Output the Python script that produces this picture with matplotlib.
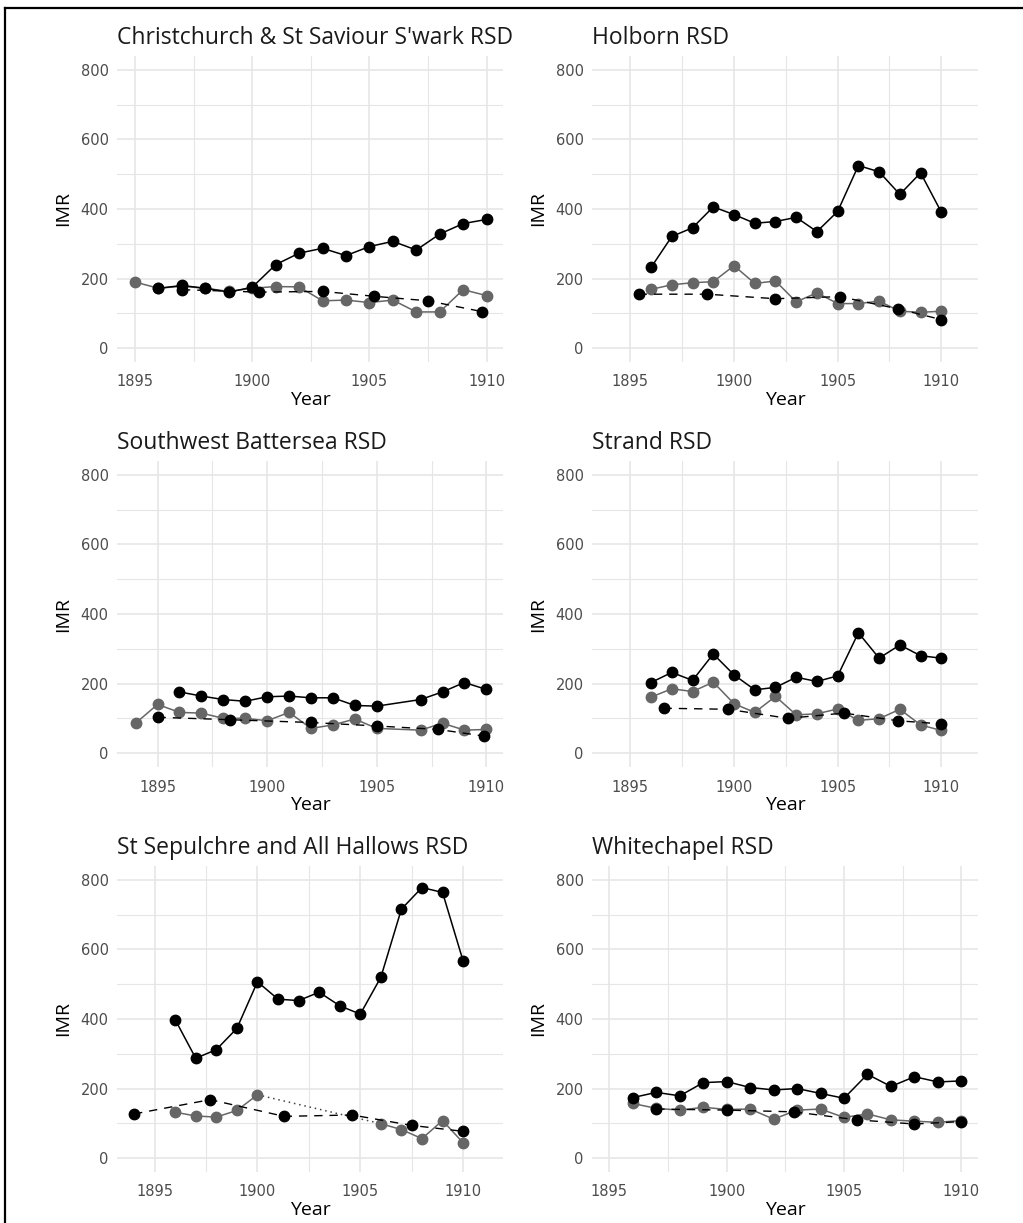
import numpy as np
import matplotlib.pyplot as plt
from matplotlib.lines import Line2D

# ---------------------------------------------------------------------------
# Data: infant mortality rate by registration sub-district

titles = ["Christchurch & St Saviour S'wark RSD", "Holborn RSD",
          "Southwest Battersea RSD", "Strand RSD",
          "St Sepulchre and All Hallows RSD", "Whitechapel RSD"]

# black solid series
black_years = [
    [1896, 1897, 1898, 1899, 1900, 1901, 1902, 1903, 1904, 1905, 1906, 1907, 1908, 1909, 1910],
    [1896, 1897, 1898, 1899, 1900, 1901, 1902, 1903, 1904, 1905, 1906, 1907, 1908, 1909, 1910],
    [1896, 1897, 1898, 1899, 1900, 1901, 1902, 1903, 1904, 1905, 1907, 1908, 1909, 1910],
    [1896, 1897, 1898, 1899, 1900, 1901, 1902, 1903, 1904, 1905, 1906, 1907, 1908, 1909, 1910],
    [1896, 1897, 1898, 1899, 1900, 1901, 1902, 1903, 1904, 1905, 1906, 1907, 1908, 1909, 1910],
    [1896, 1897, 1898, 1899, 1900, 1901, 1902, 1903, 1904, 1905, 1906, 1907, 1908, 1909, 1910],
]
black_imr = [
    [172, 180, 172, 161, 175, 240, 273, 287, 266, 292, 307, 282, 328, 358, 370],
    [232, 321, 346, 406, 384, 359, 364, 376, 335, 393, 525, 507, 442, 504, 391],
    [176, 164, 154, 149, 162, 164, 159, 159, 137, 135, 154, 176, 203, 183],
    [203, 232, 209, 285, 225, 182, 189, 218, 206, 222, 346, 273, 311, 280, 273],
    [398, 287, 312, 373, 507, 457, 453, 477, 438, 414, 520, 716, 778, 764, 567],
    [174, 189, 179, 217, 220, 203, 196, 200, 186, 172, 241, 206, 234, 219, 222],
]

# grey series
grey_years = [
    [1895, 1896, 1897, 1898, 1899, 1900, 1901, 1902, 1903, 1904, 1905, 1906, 1907, 1908, 1909, 1910],
    [1896, 1897, 1898, 1899, 1900, 1901, 1902, 1903, 1904, 1905, 1906, 1907, 1908, 1909, 1910],
    [1894, 1895, 1896, 1897, 1898, 1899, 1900, 1901, 1902, 1903, 1904, 1905, 1907, 1908, 1909, 1910],
    [1896, 1897, 1898, 1899, 1900, 1901, 1902, 1903, 1904, 1905, 1906, 1907, 1908, 1909, 1910],
    [1896, 1897, 1898, 1899, 1900, 1906, 1907, 1908, 1909, 1910],
    [1896, 1897, 1898, 1899, 1900, 1901, 1902, 1903, 1904, 1905, 1906, 1907, 1908, 1909, 1910],
]
grey_imr = [
    [190, 172, 178, 172, 163, 172, 177, 176, 136, 138, 131, 138, 104, 104, 168, 151],
    [169, 182, 188, 191, 237, 186, 193, 133, 159, 128, 128, 135, 106, 103, 106],
    [86, 140, 117, 115, 100, 100, 93, 117, 71, 81, 98, 71, 66, 86, 66, 68],
    [161, 185, 177, 204, 142, 117, 163, 110, 113, 127, 94, 99, 126, 81, 65],
    [132, 121, 118, 137, 182, 99, 82, 56, 108, 44],
    [157, 143, 138, 146, 140, 141, 112, 138, 141, 117, 127, 110, 106, 103, 108],
]
# years where the grey series is missing (bridged with a dotted line)
grey_gap = [None, None, None, None, (1900, 1906), None]

# black dashed series
dash_years = [
    [1897, 1900.3, 1903, 1905.2, 1907.5, 1909.8],
    [1895.4, 1898.7, 1902.0, 1905.1, 1907.9, 1910.0],
    [1895, 1898.3, 1902, 1905, 1907.8, 1909.9],
    [1896.6, 1899.7, 1902.6, 1905.3, 1907.9, 1910],
    [1894.0, 1897.7, 1901.3, 1904.6, 1907.5, 1910.0],
    [1897, 1900, 1902.85, 1905.55, 1908, 1910],
]
dash_imr = [
    [168, 161, 163, 149, 136, 105],
    [155, 155, 142, 148, 113, 82],
    [103, 96, 88, 78, 68, 49],
    [129, 126, 100, 115, 93, 84],
    [127, 168, 120, 124, 94, 77],
    [141, 138, 133, 110, 98, 105],
]

xlims = [(1894.23, 1910.7), (1893.15, 1911.77), (1893.15, 1910.76),
         (1893.15, 1911.77), (1893.17, 1911.94), (1894.26, 1910.71)]

# ---------------------------------------------------------------------------
# Plot
W, H = 1023, 1223
fig = plt.figure(figsize=(W / 100, H / 100), dpi=100)

cols = [117, 592]
rows = [56, 461, 866]
pw, ph = 386, 306

GRID = '#e6e6e6'
GREY = '#666666'
TICK = '#4d4d4d'

for i in range(6):
    c, r = i % 2, i // 2
    ax = fig.add_axes([cols[c] / W, 1 - (rows[r] + ph) / H, pw / W, ph / H])
    for s in ax.spines.values():
        s.set_visible(False)

    ax.set_xlim(*xlims[i])
    ax.set_ylim(-40, 840)
    ax.set_xticks([1895, 1900, 1905, 1910])
    ax.set_xticks([1897.5, 1902.5, 1907.5], minor=True)
    ax.set_yticks([0, 200, 400, 600, 800])
    ax.set_yticks([100, 300, 500, 700], minor=True)
    ax.grid(which='major', color=GRID, lw=1.2)
    ax.grid(which='minor', color=GRID, lw=0.8)
    ax.set_axisbelow(True)
    ax.tick_params(which='both', length=0)
    ax.tick_params(axis='x', pad=9, labelsize=10.5, labelcolor=TICK)
    ax.tick_params(axis='y', pad=6, labelsize=10.5, labelcolor=TICK)

    # dashed series
    ax.plot(dash_years[i], dash_imr[i], color='black', lw=1.0, ls=(0, (6, 5)),
            marker='o', ms=7.5, zorder=3)
    # grey series
    gy = np.array(grey_years[i], dtype=float)
    gv = np.array(grey_imr[i], dtype=float)
    if grey_gap[i] is not None:
        a, b = grey_gap[i]
        k = int(np.where(gy == a)[0][0])
        ax.plot([gy[k], gy[k + 1]], [gv[k], gv[k + 1]], color='#444444', lw=1.1,
                ls=(0, (1, 2.5)), zorder=2)
        gy = np.insert(gy, k + 1, np.nan)
        gv = np.insert(gv, k + 1, np.nan)
    ax.plot(gy, gv, color=GREY, lw=1.1, marker='o', ms=7.5, zorder=2)
    # black solid series
    ax.plot(black_years[i], black_imr[i], color='black', lw=1.1,
            marker='o', ms=7.5, zorder=4)

    ax.set_title(titles[i], loc='left', pad=9, fontsize=16.5,
                 family='Open Sans', color='#1a1a1a')
    ax.set_xlabel('Year', fontsize=14, family='Open Sans', labelpad=1)
    ax.set_ylabel('IMR', fontsize=14, family='Open Sans', labelpad=6)

# frame on the top and left edge
fig.add_artist(Line2D([5 / W, 5 / W], [0, 1 - 8 / H], transform=fig.transFigure,
                      color='black', lw=1.6))
fig.add_artist(Line2D([5 / W, 1], [1 - 8 / H, 1 - 8 / H], transform=fig.transFigure,
                      color='black', lw=1.6))

fig.savefig('out.png', dpi=100)
